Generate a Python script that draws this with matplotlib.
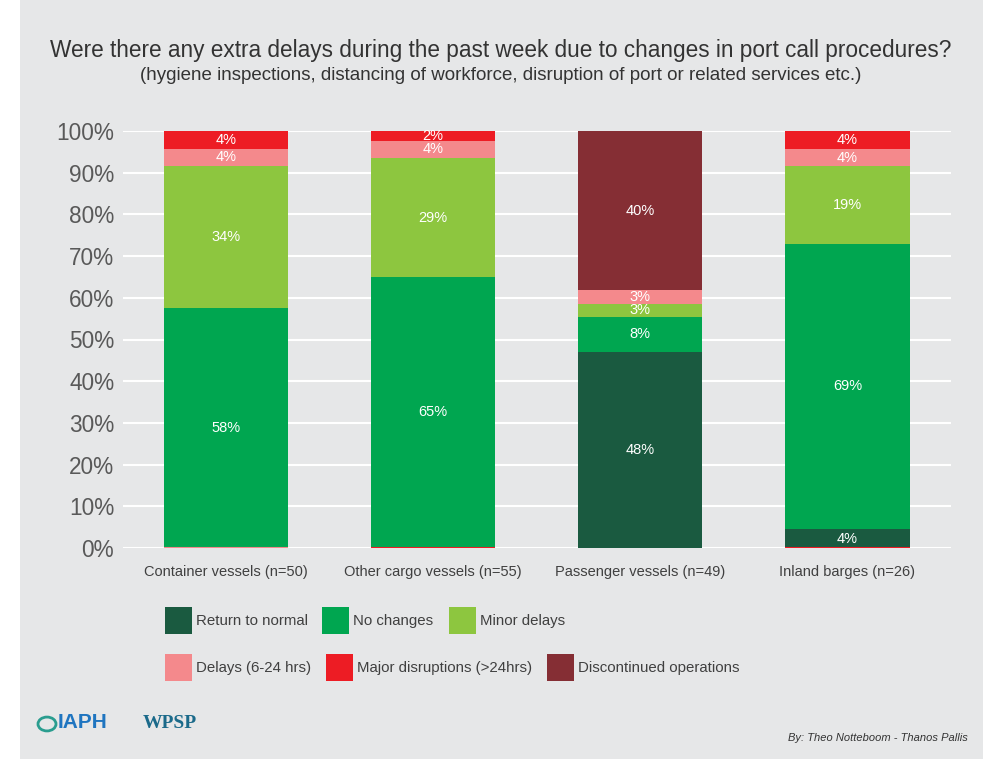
import matplotlib
matplotlib.use("Agg")
import matplotlib.pyplot as plt
from matplotlib.patches import Rectangle, Circle
import numpy as np

plt.rcParams['font.family'] = ['Liberation Sans', 'DejaVu Sans']

categories = ["Container vessels (n=50)", "Other cargo vessels (n=55)",
              "Passenger vessels (n=49)", "Inland barges (n=26)"]
series_names = ["Return to normal", "No changes", "Minor delays",
                "Delays (6-24 hrs)", "Major disruptions (>24hrs)", "Discontinued operations"]
return_to_normal = [0, 0, 47, 4.5]
no_changes = [57.5, 65, 8.5, 68.5]
minor_delays = [34, 28.5, 3, 18.5]
delays_6_24 = [4.3, 4.2, 3.3, 4.2]
major_disruptions = [4.2, 2.3, 0, 4.3]
discontinued = [0, 0, 38.2, 0]
labels_return = ["", "", "48%", "4%"]
labels_nochange = ["58%", "65%", "8%", "69%"]
labels_minor = ["34%", "29%", "3%", "19%"]
labels_delays = ["4%", "4%", "3%", "4%"]
labels_major = ["4%", "2%", "", "4%"]
labels_disc = ["", "", "40%", ""]
yticks = [0, 10, 20, 30, 40, 50, 60, 70, 80, 90, 100]
ytick_labels = [f"{v}%" for v in yticks]

colors = ["#1a5a40", "#00a650", "#8dc63f", "#f4898c", "#ed1c24", "#852e34"]
base_line_colors = ["#f4898c", "#ed1c24", None, "#ed1c24"]

W, H = 989, 763
fig = plt.figure(figsize=(W / 100, H / 100), dpi=100, facecolor="white")
fig.patches.append(Rectangle((20 / W, 4 / H), (983 - 20) / W, (763 - 4) / H,
                             transform=fig.transFigure, facecolor="#e6e7e8",
                             edgecolor="none", zorder=-10))

ax = fig.add_axes([122.5 / W, (H - 548) / H, (951 - 122.5) / W, (548 - 131) / H])
ax.set_facecolor("none")
x = np.arange(len(categories))
width = 0.6

all_series = [return_to_normal, no_changes, minor_delays, delays_6_24, major_disruptions, discontinued]
all_labels = [labels_return, labels_nochange, labels_minor, labels_delays, labels_major, labels_disc]
bottom = np.zeros(len(categories))
for vals, labs, col in zip(all_series, all_labels, colors):
    vals = np.array(vals, dtype=float)
    ax.bar(x, vals, width, bottom=bottom, color=col, zorder=3, linewidth=0)
    for i, (v, lab) in enumerate(zip(vals, labs)):
        if lab and v > 0:
            ax.text(x[i], bottom[i] + v / 2, lab, ha="center", va="center",
                    color="white", fontsize=10.5, zorder=4)
    bottom += vals

for i, c in enumerate(base_line_colors):
    if c:
        ax.hlines(0, x[i] - width / 2, x[i] + width / 2, color=c, lw=1.5, zorder=4)

ax.set_xlim(-0.5, len(categories) - 0.5)
ax.set_ylim(0, 100)
ax.set_yticks(yticks)
ax.set_yticklabels(ytick_labels, fontsize=16.3, color="#595959")
ax.set_xticks(x)
ax.set_xticklabels(categories, fontsize=10.5, color="#404040")
ax.tick_params(axis="both", length=0)
ax.tick_params(axis="y", pad=6)
ax.tick_params(axis="x", pad=12)
ax.yaxis.grid(True, color="white", lw=1.5, zorder=0)
ax.set_axisbelow(True)
for s in ax.spines.values():
    s.set_visible(False)

fig.text(501 / W, 1 - 50 / H,
         "Were there any extra delays during the past week due to changes in port call procedures?",
         ha="center", va="center", fontsize=16.3, color="#333333")
fig.text(501 / W, 1 - 75 / H,
         "(hygiene inspections, distancing of workforce, disruption of port or related services etc.)",
         ha="center", va="center", fontsize=13.5, color="#333333")

# legend (manual flow layout)
legend_pos = [(165, 607), (322, 607), (449, 607), (165, 654), (326, 654), (547, 654)]
for (lx, ly), name, col in zip(legend_pos, series_names, colors):
    fig.patches.append(Rectangle((lx / W, 1 - (ly + 27) / H), 27 / W, 27 / H,
                                 transform=fig.transFigure, facecolor=col, edgecolor="none"))
    fig.text((lx + 31) / W, 1 - (ly + 14) / H, name, ha="left", va="center",
             fontsize=10.8, color="#404040")

# logos (text approximations)
fig.patches.append(Circle((47 / W, 1 - 724 / H), 9 / W, transform=fig.transFigure,
                          facecolor="none", edgecolor="#2a9d8f", lw=2))
fig.text(58 / W, 1 - 722 / H, "IAPH", ha="left", va="center", fontsize=15,
         color="#1f75c0", fontweight="bold")
fig.text(143 / W, 1 - 724 / H, "WPSP", ha="left", va="center", fontsize=14,
         color="#1b6a8a", fontweight="bold", family="Liberation Serif")
fig.text(968 / W, 1 - 738 / H, "By: Theo Notteboom - Thanos Pallis", ha="right",
         va="center", fontsize=8, style="italic", color="#333333")

fig.savefig("out.png", dpi=100, facecolor="white")
